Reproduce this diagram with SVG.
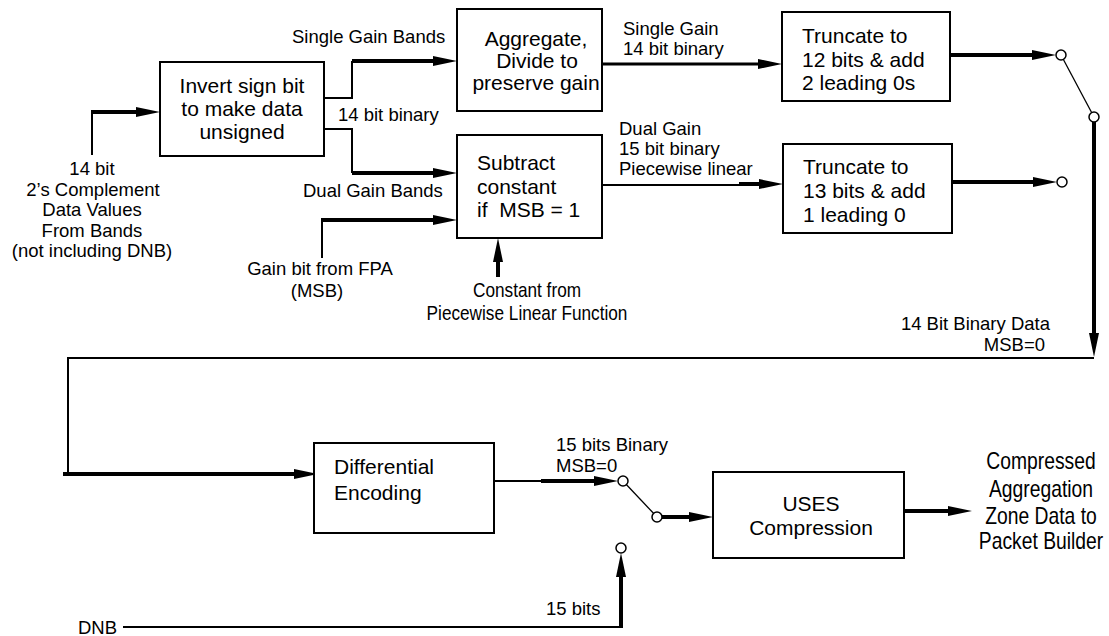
<svg xmlns="http://www.w3.org/2000/svg" width="1109" height="636" viewBox="0 0 1109 636">
  <style>
    .box { fill: #fff; stroke: #000; stroke-width: 2; }
    .t { font-family: "Liberation Sans", Arial, sans-serif; fill: #000; }
    .bt { font-size: 21px; }
    .lb { font-size: 18.5px; }
    .mid { text-anchor: middle; }
    .end { text-anchor: end; }
    .thin { fill: none; stroke: #000; stroke-width: 2; }
    .mid3 { fill: none; stroke: #000; stroke-width: 3; }
    .thick { fill: none; stroke: #000; stroke-width: 4; }
    .sw { fill: none; stroke: #000; stroke-width: 1.3; }
    .pin { fill: #fff; stroke: #000; stroke-width: 1.5; }
  </style>
  <defs>
    <marker id="arr" viewBox="0 0 24 10" refX="4" refY="5" markerWidth="24" markerHeight="10" markerUnits="userSpaceOnUse" orient="auto">
      <path d="M0,0 L24,5 L0,10 z" fill="#000"/>
    </marker>
  </defs>

  <rect width="1109" height="636" fill="#fff"/>

  <!-- connectors -->
  <g id="connectors">
    <!-- band input -->
    <path class="thin" d="M92,155 V112"/>
    <path class="thick" d="M91,112 H140" marker-end="url(#arr)"/>
    <!-- split to single / dual gain -->
    <path class="thin" d="M324,98 H352 V61"/>
    <path class="thick" d="M352,61 H437" marker-end="url(#arr)"/>
    <path class="thin" d="M324,129 H352 V173"/>
    <path class="thick" d="M352,173 H437" marker-end="url(#arr)"/>
    <!-- gain bit -->
    <path class="thin" d="M322,258 V220"/>
    <path class="thick" d="M321,220 H437" marker-end="url(#arr)"/>
    <!-- piecewise constant -->
    <path class="thick" d="M498,277 V258" marker-end="url(#arr)"/>
    <!-- aggregate to truncate 12 -->
    <path class="mid3" d="M602,64 H762" marker-end="url(#arr)"/>
    <!-- subtract to truncate 13 -->
    <path class="thin" d="M602,185 H740"/>
    <path class="thick" d="M739,184 H763" marker-end="url(#arr)"/>
    <!-- truncate outputs to selector -->
    <path class="thick" d="M950,55 H1036" marker-end="url(#arr)"/>
    <path class="thick" d="M952,182 H1037" marker-end="url(#arr)"/>
    <path class="sw" d="M1061,55 L1094,117"/>
    <path class="thick" d="M1094,122 V337" marker-end="url(#arr)"/>
    <!-- return path to differential encoding -->
    <path class="thin" d="M1094,358 H68 V474"/>
    <path class="thick" d="M63,474 H298" marker-end="url(#arr)"/>
    <!-- differential output to selector -->
    <path class="thin" d="M494,481 H542"/>
    <path class="thick" d="M541,481 H598" marker-end="url(#arr)"/>
    <path class="sw" d="M623,481 L657,517"/>
    <path class="thick" d="M662,517 H693" marker-end="url(#arr)"/>
    <!-- DNB path -->
    <path class="thin" d="M123,627 H621"/>
    <path class="thick" d="M621,628 V573" marker-end="url(#arr)"/>
    <!-- compressed output -->
    <path class="thick" d="M904,511 H952" marker-end="url(#arr)"/>
    <!-- selector contacts -->
    <circle class="pin" cx="1061" cy="55" r="5"/>
    <circle class="pin" cx="1062" cy="182" r="5"/>
    <circle class="pin" cx="1094" cy="117" r="5"/>
    <circle class="pin" cx="623" cy="481" r="5"/>
    <circle class="pin" cx="657" cy="517" r="5"/>
    <circle class="pin" cx="621" cy="548" r="5"/>
  </g>

  <!-- processing blocks -->
  <g id="invert">
    <rect class="box" x="160" y="62" width="164" height="94"/>
    <text class="t bt mid" x="242" y="93">Invert sign bit</text>
    <text class="t bt mid" x="242" y="116">to make data</text>
    <text class="t bt mid" x="242" y="139">unsigned</text>
  </g>
  <g id="aggregate">
    <rect class="box" x="457" y="9" width="145" height="102"/>
    <text class="t bt mid" x="536" y="46">Aggregate,</text>
    <text class="t bt mid" x="537" y="68">Divide to</text>
    <text class="t bt mid" x="536" y="90">preserve gain</text>
  </g>
  <g id="subtract">
    <rect class="box" x="457" y="135" width="145" height="103"/>
    <text class="t bt" x="477" y="170">Subtract</text>
    <text class="t bt" x="477" y="194">constant</text>
    <text class="t bt" x="477" y="217" xml:space="preserve">if  MSB = 1</text>
  </g>
  <g id="truncate12">
    <rect class="box" x="782" y="12" width="168" height="89"/>
    <text class="t bt" x="802" y="43">Truncate to</text>
    <text class="t bt" x="802" y="67">12 bits &amp; add</text>
    <text class="t bt" x="802" y="90">2 leading 0s</text>
  </g>
  <g id="truncate13">
    <rect class="box" x="783" y="144" width="169" height="89"/>
    <text class="t bt" x="803" y="174">Truncate to</text>
    <text class="t bt" x="803" y="198">13 bits &amp; add</text>
    <text class="t bt" x="803" y="222">1 leading 0</text>
  </g>
  <g id="differential">
    <rect class="box" x="314" y="443" width="180" height="90"/>
    <text class="t bt" x="334" y="474">Differential</text>
    <text class="t bt" x="334" y="500">Encoding</text>
  </g>
  <g id="uses">
    <rect class="box" x="713" y="472" width="191" height="86"/>
    <text class="t bt mid" x="811" y="511">USES</text>
    <text class="t bt mid" x="811" y="535">Compression</text>
  </g>

  <!-- signal labels -->
  <g id="labels">
    <text class="t lb mid" x="92" y="175">14 bit</text>
    <text class="t lb mid" x="93" y="195.5">2’s Complement</text>
    <text class="t lb mid" x="92" y="216">Data Values</text>
    <text class="t lb mid" x="92" y="236.5">From Bands</text>
    <text class="t lb mid" x="92" y="257">(not including DNB)</text>

    <text class="t lb" x="292" y="43">Single Gain Bands</text>
    <text class="t lb" x="338" y="121">14 bit binary</text>
    <text class="t lb" x="303" y="197">Dual Gain Bands</text>
    <text class="t lb mid" x="320" y="275">Gain bit from FPA</text>
    <text class="t lb mid" x="317" y="297">(MSB)</text>

    <!-- condensed caption under the subtract block -->
    <g transform="translate(527,0) scale(0.82,1)" class="t mid" font-size="21">
      <text x="0" y="297">Constant from</text>
      <text x="0" y="320">Piecewise Linear Function</text>
    </g>

    <text class="t lb" x="623" y="35">Single Gain</text>
    <text class="t lb" x="623" y="55">14 bit binary</text>
    <text class="t lb" x="619" y="135">Dual Gain</text>
    <text class="t lb" x="619" y="155">15 bit binary</text>
    <text class="t lb" x="619" y="175">Piecewise linear</text>

    <text class="t lb end" x="1050" y="330">14 Bit Binary Data</text>
    <text class="t lb end" x="1045" y="351">MSB=0</text>

    <text class="t lb" x="556" y="451">15 bits Binary</text>
    <text class="t lb" x="556" y="472">MSB=0</text>
    <text class="t lb" x="546" y="615">15 bits</text>
    <text class="t lb" x="78" y="634">DNB</text>

    <!-- condensed output caption -->
    <g transform="translate(1041,0) scale(0.84,1)" class="t mid" font-size="23">
      <text x="0" y="469">Compressed</text>
      <text x="0" y="497">Aggregation</text>
      <text x="0" y="524">Zone Data to</text>
      <text x="0" y="549">Packet Builder</text>
    </g>
  </g>
</svg>
